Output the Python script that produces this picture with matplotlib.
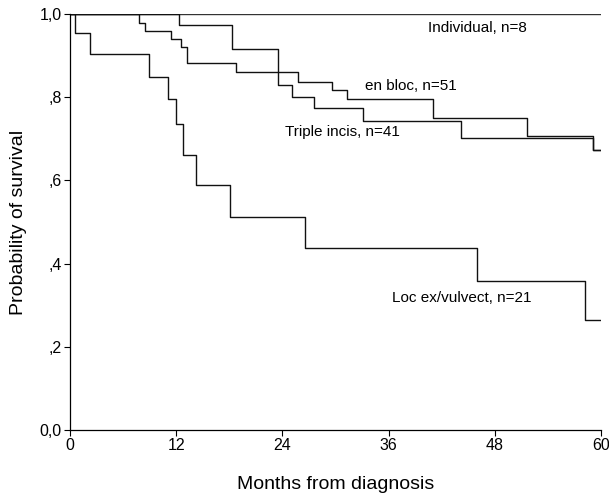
import matplotlib
matplotlib.use("Agg")
import matplotlib.pyplot as plt

# Data (months, survival probability)
loc_t = [0, 0.56, 2.26, 8.93, 11.07, 11.98, 12.77, 14.24, 18.08, 26.55, 45.99, 58.19, 60]
loc_s = [1.0, 0.954, 0.904, 0.849, 0.796, 0.736, 0.661, 0.589, 0.512, 0.4375, 0.358, 0.264, 0.264]

triple_t = [0, 12.3, 18.3, 23.5, 25.1, 27.6, 33.1, 44.2, 59.1, 60]
triple_s = [1.0, 0.974, 0.916, 0.829, 0.800, 0.774, 0.743, 0.702, 0.673, 0.673]

enbloc_t = [0, 7.8, 8.5, 11.4, 12.5, 13.2, 18.8, 25.8, 29.6, 31.3, 41.0, 51.6, 59.1, 60]
enbloc_s = [1.0, 0.978, 0.959, 0.940, 0.921, 0.882, 0.861, 0.837, 0.817, 0.796, 0.750, 0.707, 0.673, 0.673]

indiv_t = [0, 60]
indiv_s = [1.0, 1.0]

x_ticks = [0, 12, 24, 36, 48, 60]
y_ticks = [0.0, 0.2, 0.4, 0.6, 0.8, 1.0]
y_ticklabels = ["0,0", ",2", ",4", ",6", ",8", "1,0"]

plt.rcParams['font.family'] = ['Liberation Sans', 'DejaVu Sans']

fig = plt.figure(figsize=(6.09, 4.99), dpi=100)
ax = fig.add_axes([0.115, 0.138, 0.872, 0.834])

for t, s, c in [(indiv_t, indiv_s, '#333333'), (enbloc_t, enbloc_s, '#111111'),
                (triple_t, triple_s, '#111111'), (loc_t, loc_s, '#111111')]:
    ax.step(t, s, where='post', color=c, lw=1.0)

ax.set_xlim(0, 60)
ax.set_ylim(0, 1.0)
ax.set_xticks(x_ticks)
ax.set_xticklabels([str(v) for v in x_ticks])
ax.set_yticks(y_ticks)
ax.set_yticklabels(y_ticklabels)
ax.tick_params(axis='both', direction='out', length=4, width=0.8, labelsize=11.5, pad=2)
for sp in ['top', 'right']:
    ax.spines[sp].set_visible(False)
for sp in ['left', 'bottom']:
    ax.spines[sp].set_linewidth(0.9)

ax.set_xlabel("Months from diagnosis", fontsize=14, labelpad=16)
ax.set_ylabel("Probability of survival", fontsize=14, labelpad=9)

fs = 11
ax.text(40.5, 0.967, "Individual, n=8", fontsize=fs, va='center', ha='left')
ax.text(33.3, 0.828, "en bloc, n=51", fontsize=fs, va='center', ha='left')
ax.text(24.3, 0.717, "Triple incis, n=41", fontsize=fs, va='center', ha='left')
ax.text(36.4, 0.318, "Loc ex/vulvect, n=21", fontsize=fs, va='center', ha='left')

fig.savefig("out.png", dpi=100)
